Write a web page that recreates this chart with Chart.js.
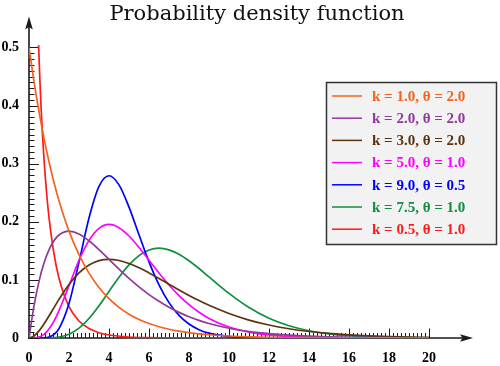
<!DOCTYPE html>
<html><head><meta charset="utf-8">
<style>html,body{margin:0;padding:0;background:#fff}canvas{display:block}</style>
<script src="https://cdn.jsdelivr.net/npm/chart.js@4"></script>
</head><body>
<canvas id="c" width="500" height="366"></canvas>
<script>
const titleText = 'Probability density function';
const seriesLabels = ['k = 1.0, θ = 2.0','k = 2.0, θ = 2.0','k = 3.0, θ = 2.0','k = 5.0, θ = 1.0','k = 9.0, θ = 0.5','k = 7.5, θ = 1.0','k = 0.5, θ = 1.0'];
const seriesColors = ['#f4621f','#8f3a99','#5c3310','#ff00ff','#0000ff','#0f8f3f','#ff1a1a'];
const xTicks = [0,2,4,6,8,10,12,14,16,18,20];
const yTicks = [0,0.1,0.2,0.3,0.4,0.5];

const xs = [0,0.25,0.5,0.75,1,1.25,1.5,2,2.5,3,3.5,4,4.5,5,5.5,6,6.5,7,7.5,8,8.5,9,10,11,12,13,14,15,16,17,18,19,20];
const k1t2 = [0.5,0.4412,0.3894,0.3436,0.3033,0.2676,0.2362,0.1839,0.1433,0.1116,0.0869,0.0677,0.0527,0.0410,0.0320,0.0249,0.0194,0.0151,0.0118,0.0092,0.0071,0.0056,0.0034,0.0020,0.0012,0.0008,0.0005,0.0003,0.0002,0.0001,0.0001,0,0];
const k2t2 = [0,0.0552,0.0974,0.1289,0.1516,0.1673,0.1772,0.1839,0.1791,0.1673,0.1521,0.1353,0.1186,0.1026,0.0879,0.0747,0.0631,0.0528,0.0441,0.0366,0.0303,0.0250,0.0168,0.0112,0.0074,0.0049,0.0032,0.0021,0.0013,0.0009,0.0006,0.0004,0.0002];
const k3t2 = [0,0.0034,0.0122,0.0242,0.0379,0.0523,0.0664,0.0920,0.1119,0.1255,0.1331,0.1353,0.1334,0.1283,0.1209,0.1120,0.1025,0.0924,0.0827,0.0733,0.0644,0.0562,0.0421,0.0308,0.0223,0.0159,0.0112,0.0078,0.0054,0.0037,0.0025,0.0017,0.0011];
const k5t1 = [0,0.0001,0.0016,0.0062,0.0153,0.0291,0.0471,0.0902,0.1336,0.1680,0.1888,0.1954,0.1898,0.1755,0.1558,0.1339,0.1118,0.0912,0.0729,0.0573,0.0443,0.0337,0.0189,0.0102,0.0053,0.0027,0.0013,0.0006,0.0003,0.0001,0.0001,0,0];
const k9t05 = [0,0,0,0.0003,0.0017,0.0062,0.0162,0.0595,0.1306,0.2065,0.2608,0.2792,0.2635,0.2252,0.1776,0.1310,0.0915,0.0609,0.0389,0.0240,0.0143,0.0083,0.0026,0.0008,0.0002,0,0,0,0,0,0,0,0];
const k75t1 = [0,0,0,0,0.0002,0.0007,0.0017,0.0066,0.0169,0.0336,0.0555,0.0802,0.1046,0.1258,0.1418,0.1514,0.1545,0.1517,0.1441,0.1329,0.1196,0.1051,0.0767,0.0524,0.0340,0.0210,0.0125,0.0072,0.0040,0.0022,0.0012,0.0006,0.0003];
const redXs = [0.48,0.54,0.6,0.67,0.75,0.9,1,1.25,1.5,2,2.5,3,3.5,4,5,6,8,10,15,20];
const k05t1 = [0.504,0.4474,0.3997,0.3527,0.3078,0.2418,0.2076,0.1446,0.1028,0.0540,0.0293,0.0162,0.0091,0.0052,0.0017,0.0006,0.0001,0,0,0];

const seriesX = [xs,xs,xs,xs,xs,xs,redXs];
const seriesY = [k1t2,k2t2,k3t2,k5t1,k9t05,k75t1,k05t1];

const datasets = seriesY.map((ys,i)=>({
  label: seriesLabels[i],
  data: ys.map((v,j)=>({x: seriesX[i][j], y: v})),
  borderColor: seriesColors[i],
  backgroundColor: seriesColors[i],
  borderWidth: 1.7,
  pointRadius: 0,
  fill: false,
  cubicInterpolationMode: 'monotone'
}));

const axesPlugin = {
  id: 'axesDeco',
  beforeDatasetsDraw(chart){
    const {ctx, scales:{x,y}, chartArea} = chart;
    const x0 = x.getPixelForValue(0), y0 = y.getPixelForValue(0);
    ctx.save();
    ctx.strokeStyle = '#1a1a1a'; ctx.fillStyle = '#1a1a1a';
    ctx.lineWidth = 1;
    ctx.beginPath();
    for(let i=0;i<=50;i++){
      const py = Math.round(y.getPixelForValue(i*0.01))+0.5;
      const len = i%10===0 ? 10 : 5.5;
      ctx.moveTo(x0, py); ctx.lineTo(x0+len, py);
    }
    for(let i=0;i<=100;i++){
      const px = Math.round(x.getPixelForValue(i*0.2))+0.5;
      const len = i%10===0 ? 9.5 : 5;
      ctx.moveTo(px, y0); ctx.lineTo(px, y0-len);
    }
    ctx.stroke();
    ctx.lineWidth = 1.6;
    ctx.beginPath();
    ctx.moveTo(x0, y0+1); ctx.lineTo(x0, chartArea.top+8);
    ctx.moveTo(x0-1, y0); ctx.lineTo(chartArea.right-8, y0);
    ctx.stroke();
    ctx.beginPath();
    ctx.moveTo(x0, chartArea.top-2); ctx.lineTo(x0-3.8, chartArea.top+11); ctx.lineTo(x0, chartArea.top+8.5); ctx.lineTo(x0+3.8, chartArea.top+11); ctx.closePath();
    ctx.fill();
    const xr = chartArea.right;
    ctx.beginPath();
    ctx.moveTo(xr, y0); ctx.lineTo(xr-13, y0-3.8); ctx.lineTo(xr-10.5, y0); ctx.lineTo(xr-13, y0+3.8); ctx.closePath();
    ctx.fill();
    ctx.restore();
  },
  afterDraw(chart){
    const {ctx} = chart;
    ctx.save();
    ctx.fillStyle = '#111';
    ctx.font = '21px "DejaVu Serif"';
    ctx.textAlign = 'center'; ctx.textBaseline = 'alphabetic';
    ctx.fillText(titleText, 257, 20);
    const bx = 326.5, by = 82.5, bw = 170, bh = 162;
    ctx.fillStyle = '#f2f2f2';
    ctx.fillRect(bx, by, bw, bh);
    ctx.strokeStyle = '#333'; ctx.lineWidth = 1.5;
    ctx.strokeRect(bx, by, bw, bh);
    ctx.font = 'bold 15px "Liberation Serif"';
    ctx.textAlign = 'left'; ctx.textBaseline = 'middle';
    chart.data.datasets.forEach((ds,i)=>{
      const ry = 96 + i*22.2;
      ctx.strokeStyle = ds.borderColor; ctx.lineWidth = 1.5;
      ctx.beginPath(); ctx.moveTo(332, ry); ctx.lineTo(362, ry); ctx.stroke();
      ctx.fillStyle = ds.borderColor;
      ctx.fillText(ds.label, 372, ry+1);
    });
    ctx.restore();
  }
};

new Chart(document.getElementById('c'), {
  type: 'line',
  data: { datasets },
  options: {
    responsive: false,
    animation: false,
    devicePixelRatio: 1,
    layout: { padding: { top: 5, right: 27, left: 0, bottom: 0 } },
    plugins: { legend: { display: false }, title: { display: false }, tooltip: { enabled: false } },
    scales: {
      x: {
        type: 'linear', min: 0, max: 22.2,
        grid: { display: false, drawTicks: false },
        border: { display: false },
        afterBuildTicks: s => { s.ticks = xTicks.map(v => ({ value: v })); },
        afterFit: s => { s.height = 28; },
        ticks: { autoSkip: false, maxRotation: 0, padding: 12, color: '#000',
          font: { family: 'Liberation Serif', size: 14, weight: 'bold' },
          callback: v => String(v) }
      },
      y: {
        type: 'linear', min: 0, max: 0.55,
        grid: { display: false, drawTicks: false },
        border: { display: false },
        afterBuildTicks: s => { s.ticks = yTicks.map(v => ({ value: v })); },
        afterFit: s => { s.width = 29; },
        ticks: { autoSkip: false, padding: 10, color: '#000',
          font: { family: 'Liberation Serif', size: 14, weight: 'bold' },
          callback: v => v === 0 ? '0' : Number(v).toFixed(1) }
      }
    }
  },
  plugins: [axesPlugin]
});
</script>
</body></html>
